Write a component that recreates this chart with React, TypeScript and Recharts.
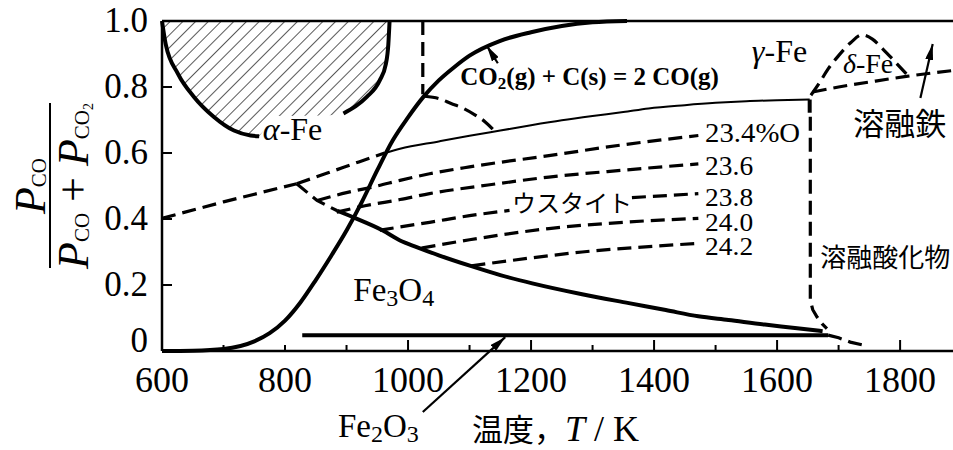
import React from 'react'
import {
  ComposedChart, Line, Area, XAxis, YAxis, ReferenceLine, ReferenceDot,
} from 'recharts'

type Pt = [number, number]

// axis ticks
const xTicks = [600, 700, 800, 900, 1000, 1100, 1200, 1300, 1400, 1500, 1600, 1700, 1800]
const xTickLabels = [600, 800, 1000, 1200, 1400, 1600, 1800]
const xLongTicks = [1000, 1200, 1400, 1600, 1800]
const yTicks = [0, 0.2, 0.4, 0.6, 0.8, 1.0]
const yTickLabels = ['0', '0.2', '0.4', '0.6', '0.8', '1.0']

// CO2 + C = 2CO (Boudouard)
const boudouard: Pt[] = [
  [600, 0], [650, 0.001], [700, 0.006], [750, 0.029], [775, 0.054], [800, 0.092],
  [825, 0.147], [850, 0.215], [875, 0.288], [900, 0.365], [925, 0.452], [950, 0.548],
  [975, 0.638], [1000, 0.708], [1025, 0.77], [1050, 0.82], [1075, 0.86], [1100, 0.895],
  [1150, 0.94], [1200, 0.966], [1250, 0.985], [1300, 0.996], [1356, 1.0],
]

// alpha-Fe hatched field
const alphaLeft: Pt[] = [
  [600, 1.0], [606, 0.93], [626, 0.84], [652, 0.77], [684, 0.71], [717, 0.668], [744, 0.653], [758, 0.651],
]
const alphaRight: Pt[] = [
  [895, 0.72], [915, 0.742], [933, 0.77], [954, 0.82], [964, 0.87], [968, 0.93], [970, 1.0],
]
const alphaHatch: Pt[] = [
  [600, 1.0], [606, 0.93], [626, 0.84], [652, 0.77], [684, 0.71], [717, 0.668], [744, 0.653],
  [758, 0.651], [770, 0.68], [785, 0.712], [870, 0.714], [895, 0.72], [915, 0.742], [933, 0.77],
  [954, 0.82], [964, 0.87], [968, 0.93], [970, 1.0],
]

// alpha / gamma
const gammaVertical: Pt[] = [[1024, 1.0], [1024, 0.778]]
const alphaGammaArc: Pt[] = [
  [1027, 0.772], [1050, 0.765], [1070, 0.75], [1090, 0.735], [1110, 0.714], [1125, 0.695], [1140, 0.668],
]

// Fe3O4 / Fe and wustite boundaries
const metastable: Pt[] = [[600, 0.402], [700, 0.452], [819, 0.507]]
const junctionUp: Pt[] = [[819, 0.507], [870, 0.54], [920, 0.573], [962, 0.6]]
const wustiteTop: Pt[] = [
  [962, 0.6], [987, 0.613], [1050, 0.635], [1100, 0.652], [1150, 0.668], [1200, 0.684],
  [1250, 0.699], [1300, 0.712], [1350, 0.724], [1391, 0.735], [1450, 0.745], [1500, 0.752],
  [1550, 0.757], [1600, 0.76], [1653, 0.762],
]
const liquidStep: Pt[] = [[1653, 0.762], [1653, 0.722]]
const oxideLiquid: Pt[] = [
  [1654, 0.71], [1654, 0.155], [1658, 0.125], [1665, 0.103], [1673, 0.083], [1681, 0.068],
]
const fe3o4Dashed: Pt[] = [[819, 0.507], [852, 0.456], [885, 0.425]]
const fe3o4Solid: Pt[] = [
  [885, 0.425], [911, 0.405], [959, 0.365], [987, 0.335], [1014, 0.315], [1050, 0.29],
  [1103, 0.257], [1150, 0.23], [1202, 0.205], [1283, 0.172], [1359, 0.145], [1419, 0.124],
  [1472, 0.105], [1521, 0.094], [1580, 0.08], [1629, 0.07], [1674, 0.06],
]
const fe2o3Solid: Pt[] = [[828, 0.048], [1683, 0.048]]
const fe2o3Dashed: Pt[] = [[1683, 0.048], [1700, 0.04], [1719, 0.027], [1740, 0.018]]

// wustite iso-oxygen lines (23.4 ... 24.2 %O)
const w234: Pt[] = [
  [852, 0.456], [900, 0.48], [950, 0.5], [987, 0.517], [1035, 0.537], [1100, 0.558],
  [1229, 0.592], [1350, 0.625], [1472, 0.653],
]
const w236: Pt[] = [
  [884, 0.421], [930, 0.44], [987, 0.459], [1035, 0.477], [1130, 0.503], [1229, 0.527],
  [1350, 0.548], [1472, 0.567],
]
const w238a: Pt[] = [[954, 0.366], [987, 0.376], [1035, 0.39], [1100, 0.41], [1165, 0.426]]
const w238b: Pt[] = [[1364, 0.465], [1420, 0.471], [1472, 0.477]]
const w240: Pt[] = [[1022, 0.312], [1100, 0.337], [1229, 0.371], [1350, 0.39], [1472, 0.402]]
const w242: Pt[] = [[1103, 0.258], [1200, 0.282], [1283, 0.3], [1380, 0.315], [1472, 0.326]]

// delta-Fe and liquid iron
const deltaTri: Pt[] = [
  [1655, 0.775], [1668, 0.81], [1683, 0.855], [1700, 0.895], [1720, 0.935], [1738, 0.958],
  [1755, 0.945], [1772, 0.915], [1790, 0.88], [1810, 0.84],
]
const deltaBase: Pt[] = [[1658, 0.785], [1700, 0.8], [1760, 0.818], [1810, 0.832], [1850, 0.842], [1886, 0.85]]

// arrows (tail, head)
const co2Arrow: Pt[] = [[1146, 0.872], [1128, 0.925]]
const fe2o3Arrow: Pt[] = [[1024, -0.185], [1158, 0.042]]
const liquidFeArrow: Pt[] = [[1833, 0.767], [1853, 0.93]]

const SERIF = '"Liberation Serif", "Times New Roman", serif'
const CJK = '"Noto Sans CJK JP", sans-serif'

const toData = (pts: Pt[]) => pts.map(([x, y]) => ({ x, y }))
const toRange = (pts: Pt[]) => pts.map(([x, y]) => ({ x, r: [y, 1.0] }))

function XTick({ x, y, payload }: any) {
  const v = payload.value
  const len = xLongTicks.includes(v) ? 11 : 6
  return (
    <g>
      {v > 600 && <line x1={x} x2={x} y1={y} y2={y - len} stroke="#000" strokeWidth={2} />}
      {xTickLabels.includes(v) && (
        <text x={x} y={y + 41} textAnchor="middle" fontFamily={SERIF} fontSize={36} fill="#000">{v}</text>
      )}
    </g>
  )
}

function YTick({ x, y, payload, index }: any) {
  const v = payload.value
  return (
    <g>
      {v > 0 && v < 1 && <line x1={x} x2={x + 10} y1={y} y2={y} stroke="#000" strokeWidth={2} />}
      <text x={x - 14} y={y + (v === 0 ? 1 : 11)} textAnchor="end" fontFamily={SERIF} fontSize={35} fill="#000">
        {yTickLabels[index]}
      </text>
    </g>
  )
}

function YFraction({ viewBox }: any) {
  const cy = viewBox.y + viewBox.height / 2
  return (
    <g fontFamily={SERIF} fill="#000">
      <text transform={`translate(45, ${cy}) rotate(-90)`} textAnchor="middle" fontSize={44}>
        <tspan fontStyle="italic">P</tspan>
        <tspan fontSize={21} dy={1}>CO</tspan>
      </text>
      <line x1={50} x2={50} y1={cy - 83} y2={cy + 82} stroke="#000" strokeWidth={2} />
      <text transform={`translate(88, ${cy}) rotate(-90)`} textAnchor="middle" fontSize={44}>
        <tspan fontStyle="italic">P</tspan>
        <tspan fontSize={21} dy={1}>CO</tspan>
        <tspan dy={-1}> + </tspan>
        <tspan fontStyle="italic">P</tspan>
        <tspan fontSize={21} dy={1}>CO</tspan>
        <tspan fontSize={14} dy={4}>2</tspan>
      </text>
    </g>
  )
}

function XTitle({ viewBox }: any) {
  return (
    <text x={viewBox.x + 310} y={viewBox.y + 90} fill="#000">
      <tspan fontFamily={CJK} fontSize={31}>温度，</tspan>
      <tspan fontFamily={SERIF} fontSize={36} fontStyle="italic">T</tspan>
      <tspan fontFamily={SERIF} fontSize={36}> / K</tspan>
    </text>
  )
}

const textAt = (key: string, x: number, y: number, render: (cx: number, cy: number) => React.ReactElement) => (
  <ReferenceDot
    key={key}
    x={x}
    y={y}
    r={1}
    ifOverflow="visible"
    shape={(p: any) => render(p.cx, p.cy)}
  />
)

const curve = (key: string, pts: Pt[], kind: 'thick' | 'thin' | 'dash', type: 'monotoneX' | 'linear' = 'monotoneX') => (
  <Line
    key={key}
    data={toData(pts)}
    dataKey="y"
    type={type}
    stroke="#000"
    strokeWidth={kind === 'thick' ? 4 : kind === 'thin' ? 2 : 3.2}
    strokeDasharray={kind === 'dash' ? '14 7' : undefined}
    dot={false}
    activeDot={false}
    isAnimationActive={false}
  />
)

const arrow = (key: string, pts: Pt[]) => (
  <ReferenceLine
    key={key}
    segment={[{ x: pts[0][0], y: pts[0][1] }, { x: pts[1][0], y: pts[1][1] }]}
    stroke="#000"
    strokeWidth={2.2}
    ifOverflow="visible"
    markerEnd="url(#arrowHead)"
  />
)

const isoLabel = (key: string, y: number, label: string, size: number, width: number) =>
  textAt(key, 1483, y, (cx, cy) => (
    <text x={cx} y={cy} fontFamily={SERIF} fontSize={size} textLength={width}
      lengthAdjust="spacingAndGlyphs" fill="#000">{label}</text>
  ))

export default function App() {
  return (
    <div style={{ position: 'absolute', left: 0, top: 0, background: '#fff' }}>
      <ComposedChart width={953} height={450} margin={{ top: 21, right: 0, bottom: 0, left: 0 }}>
        <defs>
          <pattern id="hatch" width="9" height="9" patternUnits="userSpaceOnUse" patternTransform="rotate(45)">
            <line x1="0" y1="0" x2="0" y2="9" stroke="#000" strokeWidth="1.3" />
          </pattern>
          <marker id="arrowHead" viewBox="0 0 16 8" refX="16" refY="4" markerWidth="16" markerHeight="8"
            markerUnits="userSpaceOnUse" orient="auto">
            <path d="M0,0 L16,4 L0,8 z" fill="#000" />
          </marker>
        </defs>
        <XAxis
          type="number"
          dataKey="x"
          domain={[600, 1886]}
          ticks={xTicks}
          interval={0}
          height={99}
          tickLine={false}
          tickSize={0}
          tickMargin={0}
          tick={(p: any) => <XTick {...p} />}
          axisLine={{ stroke: '#000', strokeWidth: 2.5 }}
          label={{ content: (p: any) => <XTitle {...p} /> }}
        />
        <YAxis
          type="number"
          domain={[0, 1]}
          ticks={yTicks}
          interval={0}
          width={162}
          tickLine={false}
          tickSize={0}
          tickMargin={0}
          tick={(p: any) => <YTick {...p} />}
          axisLine={{ stroke: '#000', strokeWidth: 2.5 }}
          label={{ content: (p: any) => <YFraction {...p} /> }}
        />
        <ReferenceLine y={1} stroke="#000" strokeWidth={2.5} />

        <Area
          data={toRange(alphaHatch)}
          dataKey="r"
          type="linear"
          stroke="none"
          fill="url(#hatch)"
          fillOpacity={1}
          dot={false}
          activeDot={false}
          isAnimationActive={false}
        />

        {curve('boudouard', boudouard, 'thick')}
        {curve('alphaLeft', alphaLeft, 'thick')}
        {curve('alphaRight', alphaRight, 'thick')}
        {curve('gammaVertical', gammaVertical, 'dash', 'linear')}
        {curve('alphaGammaArc', alphaGammaArc, 'dash')}
        {curve('metastable', metastable, 'dash', 'linear')}
        {curve('junctionUp', junctionUp, 'dash')}
        {curve('wustiteTop', wustiteTop, 'thin')}
        {curve('liquidStep', liquidStep, 'thick', 'linear')}
        {curve('oxideLiquid', oxideLiquid, 'dash', 'linear')}
        {curve('fe3o4Dashed', fe3o4Dashed, 'dash', 'linear')}
        {curve('fe3o4Solid', fe3o4Solid, 'thick')}
        {curve('fe2o3Solid', fe2o3Solid, 'thick', 'linear')}
        {curve('fe2o3Dashed', fe2o3Dashed, 'dash', 'linear')}
        {curve('w234', w234, 'dash')}
        {curve('w236', w236, 'dash')}
        {curve('w238a', w238a, 'dash')}
        {curve('w238b', w238b, 'dash')}
        {curve('w240', w240, 'dash')}
        {curve('w242', w242, 'dash')}
        {curve('deltaTri', deltaTri, 'dash')}
        {curve('deltaBase', deltaBase, 'dash')}

        {arrow('co2Arrow', co2Arrow)}
        {arrow('fe2o3Arrow', fe2o3Arrow)}
        {arrow('liquidFeArrow', liquidFeArrow)}

        {textAt('alphaFe', 764, 0.639, (cx, cy) => (
          <text x={cx} y={cy} fontFamily={SERIF} fontSize={32} fill="#000">
            <tspan fontStyle="italic">α</tspan>-Fe
          </text>
        ))}
        {textAt('gammaFe', 1559, 0.876, (cx, cy) => (
          <text x={cx} y={cy} fontFamily={SERIF} fontSize={32} fill="#000">
            <tspan fontStyle="italic">γ</tspan>-Fe
          </text>
        ))}
        {textAt('deltaFe', 1707, 0.842, (cx, cy) => (
          <text x={cx} y={cy} fontFamily={SERIF} fontSize={28} fill="#000">
            <tspan fontStyle="italic">δ</tspan>-Fe
          </text>
        ))}
        {textAt('co2', 1085, 0.806, (cx, cy) => (
          <text x={cx} y={cy} fontFamily={SERIF} fontSize={25} fontWeight="bold" fill="#000">
            CO<tspan fontSize={17} dy={4}>2</tspan><tspan dy={-4}>(g) + C(s) = 2 CO(g)</tspan>
          </text>
        ))}
        {textAt('fe3o4', 911, 0.152, (cx, cy) => (
          <text x={cx} y={cy} fontFamily={SERIF} fontSize={33} fill="#000">
            Fe<tspan fontSize={24} dy={5}>3</tspan><tspan dy={-5}>O</tspan><tspan fontSize={24} dy={5}>4</tspan>
          </text>
        ))}
        {textAt('fe2o3', 886, -0.26, (cx, cy) => (
          <text x={cx} y={cy} fontFamily={SERIF} fontSize={33} fill="#000">
            Fe<tspan fontSize={24} dy={5}>2</tspan><tspan dy={-5}>O</tspan><tspan fontSize={24} dy={5}>3</tspan>
          </text>
        ))}
        {textAt('wustite', 1169, 0.421, (cx, cy) => (
          <text x={cx} y={cy} fontFamily={CJK} fontSize={24} fill="#000">ウスタイト</text>
        ))}
        {textAt('liquidFe', 1724, 0.655, (cx, cy) => (
          <text x={cx} y={cy} fontFamily={CJK} fontSize={31} fill="#000">溶融鉄</text>
        ))}
        {textAt('liquidOx', 1670, 0.255, (cx, cy) => (
          <text x={cx} y={cy} fontFamily={CJK} fontSize={26} fill="#000">溶融酸化物</text>
        ))}
        {isoLabel('l234', 0.633, '23.4%O', 28, 95)}
        {isoLabel('l236', 0.533, '23.6', 28, 48)}
        {isoLabel('l238', 0.44, '23.8', 25, 48)}
        {isoLabel('l240', 0.365, '24.0', 25, 48)}
        {isoLabel('l242', 0.29, '24.2', 25, 48)}
      </ComposedChart>
    </div>
  )
}
